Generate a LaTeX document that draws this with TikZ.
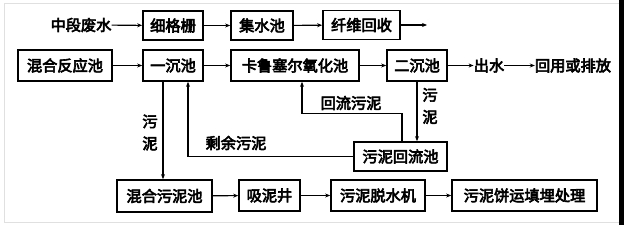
\documentclass[tikz,border=0pt]{standalone}
\usepackage{fontspec}
\setmainfont[AutoFakeBold=4]{Noto Sans CJK SC}
\usetikzlibrary{arrows.meta}
\begin{document}
\begin{tikzpicture}[x=1pt,y=-1pt,
  box/.style={draw=black,line width=1.7pt,rectangle,inner sep=0pt,align=center,font=\fontsize{15.2}{16}\selectfont\bfseries},
  lbl/.style={inner sep=0pt,align=center,font=\fontsize{15.2}{16}\selectfont\bfseries},
  vlbl/.style={inner sep=0pt,align=center,font=\fontsize{15.2}{22}\selectfont\bfseries},
  flow/.style={line width=1.1pt,-{Stealth[length=5pt,width=4pt]}},
  plain/.style={line width=1.1pt}]
\useasboundingbox (0,0) rectangle (624,225);
\fill[white] (0,0) rectangle (624,225);
\draw[black!12,line width=0.8pt] (4,222) -- (4,3) -- (619,3);
\draw[black!12,line width=0.8pt] (4,222) -- (619,222);
\fill[black] (619,0) rectangle (624,225);
% row 1
\node[lbl] (zdfs) at (81,25) {中段废水};
\node[box,minimum width=60pt,minimum height=29pt] (xgs) at (173,25.5) {细格栅};
\node[box,minimum width=62pt,minimum height=29pt] (jsc) at (262,25.5) {集水池};
\node[box,minimum width=77pt,minimum height=29pt] (xwhs) at (361.5,25) {纤维回收};
\coordinate (topend) at (427,25);
% row 2
\node[box,minimum width=94pt,minimum height=31pt] (hhfy) at (65,65.5) {混合反应池};
\node[box,minimum width=60pt,minimum height=31pt] (ycc) at (173,65.5) {一沉池};
\node[box,minimum width=128pt,minimum height=31pt] (kls) at (295,65.5) {卡鲁塞尔氧化池};
\node[box,minimum width=60pt,minimum height=31pt] (ecc) at (417,65.5) {二沉池};
\node[lbl] (cs) at (489,65.5) {出水};
\node[lbl] (hy) at (573,65.5) {回用或排放};
% middle
\node[box,minimum width=93pt,minimum height=29pt] (wnhl) at (400.5,156.5) {污泥回流池};
% row 4
\node[box,minimum width=95pt,minimum height=32pt] (hhwn) at (164.5,196) {混合污泥池};
\node[box,minimum width=61pt,minimum height=31pt] (xnj) at (269.5,195.5) {吸泥井};
\node[box,minimum width=94pt,minimum height=31pt] (wntsj) at (378,195.5) {污泥脱水机};
\node[box,minimum width=145pt,minimum height=31pt] (wnb) at (524.5,195.5) {污泥饼运填埋处理};
% labels
\node[vlbl] (l1) at (150,132.5) {污\\泥};
\node[vlbl] (l2) at (430,106) {污\\泥};
\node[lbl] (l3) at (236,143) {剩余污泥};
\node[lbl] (l4) at (351,103) {回流污泥};
% connectors
\draw[flow] (zdfs) -- (xgs);
\draw[flow] (xgs) -- (jsc);
\draw[flow] (jsc) -- (xwhs);
\draw[flow] (xwhs) -- (topend);
\draw[flow] (hhfy) -- (ycc);
\draw[flow] (ycc) -- (kls);
\draw[flow] (kls) -- (ecc);
\draw[flow] (ecc) -- (cs);
\draw[flow] (cs) -- (hy);
\draw[flow] ([xshift=-1.5pt]hhwn.north |- ycc.south) -- ([xshift=-1.5pt]hhwn.north);
\draw[flow] (wnhl.west) -| ([xshift=15pt]ycc.south);
\draw[flow] ([xshift=1.5pt]wnhl.north) -- ++(0,-28) -| ([xshift=7pt]kls.south);
\draw[flow] (ecc.south) -- (ecc.south |- wnhl.north);
\draw[flow] (hhwn) -- (xnj);
\draw[flow] (xnj) -- (wntsj);
\draw[flow] (wntsj) -- (wnb);
\end{tikzpicture}
\end{document}
